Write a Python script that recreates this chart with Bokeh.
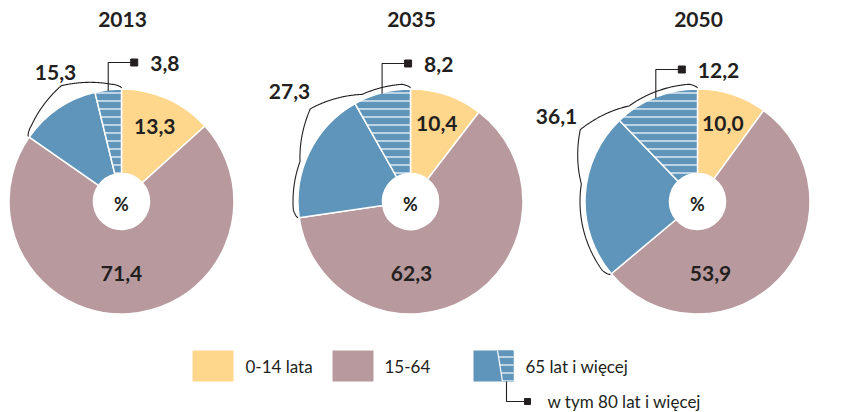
import numpy as np
from bokeh.plotting import figure
from bokeh.embed import file_html
from bokeh.resources import INLINE
from bokeh.core.properties import value

# ---------------- data ----------------
years = ["2013", "2035", "2050"]
age_0_14 = [13.3, 10.4, 10.0]
age_15_64 = [71.4, 62.3, 53.9]
age_65_plus = [15.3, 27.3, 36.1]
age_80_plus = [3.8, 8.2, 12.2]
legend_labels = ["0-14 lata", "15-64", "65 lat i więcej", "w tym 80 lat i więcej"]

# ---------------- style ----------------
C_YEL = "#FED68C"
C_MAU = "#B7999E"
C_BLU = "#5F95BA"
C_TXT = "#231F20"
FONT = value("Lato")


def fmt(v):
    return f"{v:.1f}".replace(".", ",")


W, H = 856, 412
p = figure(width=W, height=H, x_range=(0, W), y_range=(0, H),
           output_backend="svg", toolbar_location=None,
           x_axis_location=None, y_axis_location=None, min_border=0)
p.grid.visible = False
p.outline_line_color = None
p.background_fill_color = "white"
p.border_fill_color = "white"


def X(sx):
    return sx


def Y(sy):
    return H - sy


centers = [(121, 201), (410, 201), (697, 201)]
R = 112.5
R_IN = 28
mauve_label_dx = [0, 1, 13]
brace_label_pos = [(55, 72), (289, 91), (556, 116)]
brace_tip_off = [17, 23, 24]
brace_tip_frac = [0.5, 0.48, 0.45]
callout_y = [62, 63, 69]

for i, yr in enumerate(years):
    cx, cy = X(centers[i][0]), Y(centers[i][1])
    d_y = np.deg2rad(age_0_14[i] * 3.6)
    d_m = np.deg2rad(age_15_64[i] * 3.6)
    d_b = np.deg2rad(age_65_plus[i] * 3.6)
    d_h = np.deg2rad(age_80_plus[i] * 3.6)
    top = np.pi / 2
    # yellow, mauve, blue (non-hatched) wedges, clockwise from top
    starts = [top, top - d_y, top - d_y - d_m]
    ends = [top - d_y, top - d_y - d_m, top + d_h]
    p.annular_wedge(x=[cx] * 3, y=[cy] * 3, inner_radius=R_IN, outer_radius=R,
                    start_angle=starts, end_angle=ends, direction="clock",
                    fill_color=[C_YEL, C_MAU, C_BLU], line_color="white", line_width=1.5)
    # hatched 80+ part
    p.annular_wedge(x=[cx], y=[cy], inner_radius=R_IN, outer_radius=R,
                    start_angle=[top + d_h], end_angle=[top], direction="clock",
                    fill_color=C_BLU, line_color="white", line_width=1.5,
                    hatch_pattern="horizontal_line", hatch_color="white",
                    hatch_scale=8, hatch_weight=1.4, hatch_alpha=0.85)

    # title
    p.text(x=[cx + 1], y=[Y(19)], text=[yr], text_font=FONT, text_font_style="bold",
           text_font_size="21px", text_align="center", text_baseline="middle",
           text_color=C_TXT)
    # percent sign
    p.text(x=[cx], y=[Y(203)], text=["%"], text_font=FONT, text_font_style="bold",
           text_font_size="18px", text_align="center", text_baseline="middle",
           text_color=C_TXT)
    # inner labels
    a_mid = top - d_y / 2
    p.text(x=[cx + 82 * np.cos(a_mid)], y=[cy + 82 * np.sin(a_mid)], text=[fmt(age_0_14[i])],
           text_font=FONT, text_font_style="bold", text_font_size="21px",
           text_align="center", text_baseline="middle", text_color=C_TXT)
    p.text(x=[cx + mauve_label_dx[i]], y=[cy - 72], text=[fmt(age_15_64[i])],
           text_font=FONT, text_font_style="bold", text_font_size="21px",
           text_align="center", text_baseline="middle", text_color=C_TXT)

    # brace along the 65+ arc
    a0, a1 = top, top + d_b
    L = R * (a1 - a0)
    s = np.linspace(0, L, 300)
    base = 4.0
    off = base * np.clip(np.minimum(s, L - s) / 8.0, 0, 1) ** 0.6
    st = brace_tip_frac[i] * L
    bump = np.clip(1 - np.abs(s - st) / 45.0, 0, 1)
    off = off + (brace_tip_off[i] - base) * bump
    ang = a0 + s / R
    rr = R + 1 + off
    p.line(cx + rr * np.cos(ang), cy + rr * np.sin(ang), line_color=C_TXT, line_width=1.1)
    bx, by = brace_label_pos[i]
    p.text(x=[X(bx)], y=[Y(by)], text=[fmt(age_65_plus[i])], text_font=FONT,
           text_font_style="bold", text_font_size="21px", text_align="center",
           text_baseline="middle", text_color=C_TXT)

    # callout for 80+
    a_h = top + d_h / 2
    lx0 = cx + (R - 1) * np.cos(a_h)
    ly0 = cy + (R - 1) * np.sin(a_h)
    ly1 = Y(callout_y[i])
    p.line([lx0, lx0, lx0 + 26], [ly0, ly1, ly1], line_color=C_TXT, line_width=1.1)
    p.scatter(x=[lx0 + 26], y=[ly1], marker="square", size=7, fill_color=C_TXT, line_color=C_TXT)
    p.text(x=[lx0 + 42], y=[ly1 - 1], text=[fmt(age_80_plus[i])], text_font=FONT,
           text_font_style="bold", text_font_size="21px", text_align="left",
           text_baseline="middle", text_color=C_TXT)

# ---------------- legend ----------------
ly_top, ly_bot = Y(350), Y(381)
p.quad(left=[X(192), X(332), X(473)], right=[X(233), X(373), X(513)],
       top=[ly_top] * 3, bottom=[ly_bot] * 3, fill_color=[C_YEL, C_MAU, C_BLU], line_color=None)
p.patch([X(497), X(513), X(513), X(502)], [ly_top, ly_top, ly_bot, ly_bot],
        fill_color=C_BLU, line_color=None, hatch_pattern="horizontal_line",
        hatch_color="white", hatch_scale=8, hatch_weight=1.4, hatch_alpha=0.85)
p.line([X(497), X(502)], [ly_top, ly_bot], line_color="white", line_width=1.2)
leg_text_x = [245, 384, 525]
for j in range(3):
    p.text(x=[X(leg_text_x[j])], y=[Y(366)], text=[legend_labels[j]], text_font=FONT,
           text_font_size="17px", text_align="left", text_baseline="middle",
           text_color=C_TXT)
p.line([X(506), X(506), X(527)], [ly_bot, Y(401), Y(401)], line_color=C_TXT, line_width=1.1)
p.scatter(x=[X(527)], y=[Y(401)], marker="square", size=6, fill_color=C_TXT, line_color=C_TXT)
p.text(x=[X(547)], y=[Y(401)], text=[legend_labels[3]], text_font=FONT,
       text_font_size="17px", text_align="left", text_baseline="middle", text_color=C_TXT)

open("out.html", "w").write(file_html(p, INLINE))
